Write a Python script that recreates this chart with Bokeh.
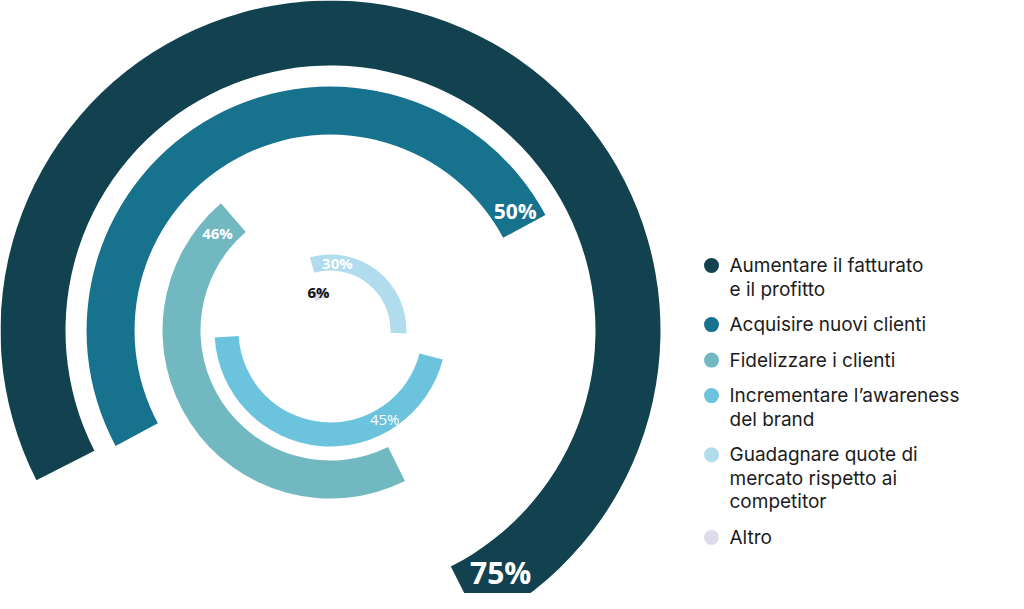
import math
from bokeh.plotting import figure
from bokeh.models import Range1d, ColumnDataSource
from bokeh.core.properties import value
from bokeh.embed import file_html
from bokeh.resources import INLINE

# ---------------- data ----------------
categories = [
    "Aumentare il fatturato\ne il profitto",
    "Acquisire nuovi clienti",
    "Fidelizzare i clienti",
    "Incrementare l’awareness\ndel brand",
    "Guadagnare quote di\nmercato rispetto ai\ncompetitor",
    "Altro",
]
percentages = [75, 50, 46, 45, 30, 6]
value_labels = ["75%", "50%", "46%", "45%", "30%", "6%"]

# ---------------- style ----------------
colors = ["#12424f", "#17728e", "#71b8c1", "#6cc3dd", "#b0dced", "#dcdcea"]
inner_r = [265, 196, 130, 92, 60, 33]
outer_r = [330, 244, 168, 116, 76, 43]
ring_mid_angle = [72, 118.25, 213.5, 264.5, 51.75, 106]   # rotation of each ring (deg)
label_frac = [0.03, 0.026, 0.052, 0.728, 0.80, 0.57]      # label position along arc
label_r = [296, 220, 149, 104, 68, 40]
label_size = ["30px", "21px", "15px", "15px", "15px", "15px"]
label_style = ["bold", "bold", "bold", "normal", "bold", "bold"]
label_color = ["white", "white", "white", "white", "white", "#111111"]
DEG_PER_PCT = 360.0 / 100.0

W, H = 1008, 593
CX, CY = 330, 330  # ring centre in reference pixels

p = figure(width=W, height=H, output_backend="svg", toolbar_location=None,
           x_range=Range1d(-CX, W - CX), y_range=Range1d(CY - H, CY),
           x_axis_location=None, y_axis_location=None, min_border=0)
p.grid.visible = False
p.outline_line_color = None
p.background_fill_color = "white"

starts, ends = [], []
for v, m in zip(percentages, ring_mid_angle):
    span = v * DEG_PER_PCT
    starts.append(m - span / 2)
    ends.append(m + span / 2)

src = ColumnDataSource(dict(x=[0] * len(percentages), y=[0] * len(percentages),
                            ir=inner_r, orr=outer_r, s=starts, e=ends, c=colors))
p.annular_wedge(x="x", y="y", inner_radius="ir", outer_radius="orr",
                start_angle="s", end_angle="e", start_angle_units="deg",
                end_angle_units="deg", fill_color="c", line_color=None, source=src)

# value labels on the rings
for i, lab in enumerate(value_labels):
    ang = math.radians(starts[i] + label_frac[i] * (ends[i] - starts[i]))
    lx = label_r[i] * math.cos(ang)
    ly = label_r[i] * math.sin(ang)
    p.text(x=[lx], y=[ly], text=[lab], text_font=value("Open Sans"),
           text_font_size=value(label_size[i]), text_font_style=label_style[i],
           text_color=label_color[i], text_align="center", text_baseline="middle")

# legend
leg_dot_x = 711 - CX
leg_text_x = 729 - CX
line_h = 23.6
item_gap = 35.5
y_ref = 265
for i, cat in enumerate(categories):
    lines = cat.split("\n")
    p.scatter(x=[leg_dot_x], y=[CY - y_ref], size=15, marker="circle",
              fill_color=colors[i], line_color=None)
    for j, ln in enumerate(lines):
        p.text(x=[leg_text_x], y=[CY - (y_ref + j * line_h)], text=[ln],
               text_font=value("Inter"), text_font_size=value("19px"),
               text_color="#1c1c1c", text_align="left", text_baseline="middle")
    y_ref = y_ref + (len(lines) - 1) * line_h + item_gap

open("out.html", "w").write(file_html(p, INLINE))
